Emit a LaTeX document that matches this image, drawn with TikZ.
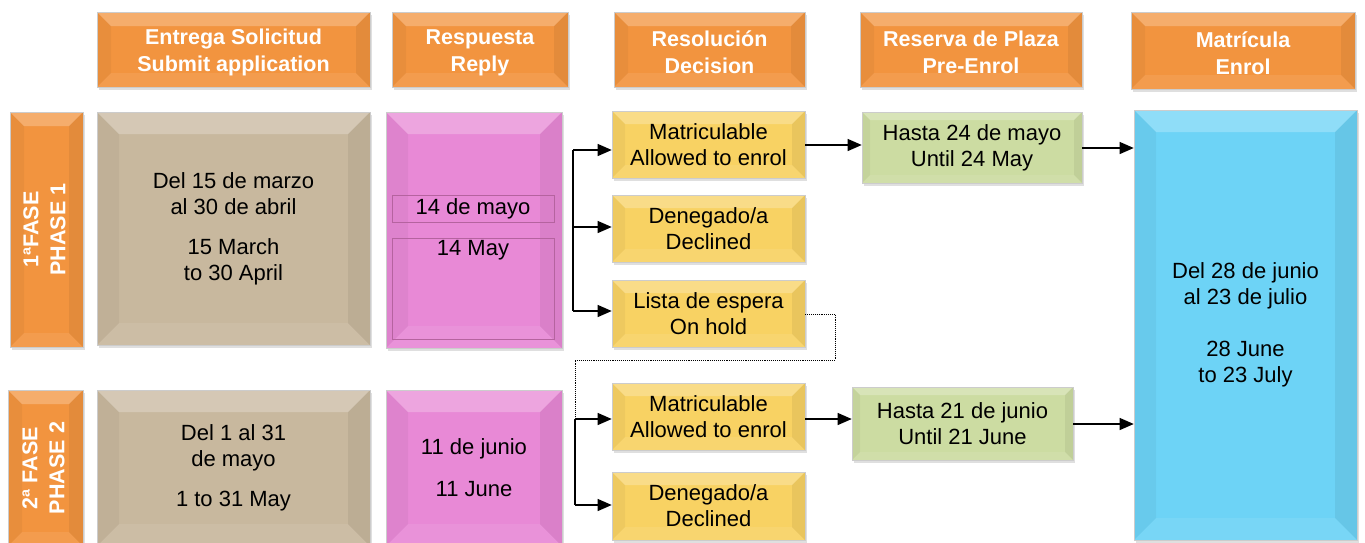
\documentclass[tikz,border=0pt]{standalone}
\usepackage{fontspec}
\setmainfont{Liberation Sans}
\usepackage{graphicx}
\usetikzlibrary{arrows.meta,shadows}
\definecolor{orng}{HTML}{F2943F}
\definecolor{tan}{HTML}{C8B89E}
\definecolor{pnk}{HTML}{E889D6}
\definecolor{pnkline}{HTML}{B5639F}
\definecolor{ylw}{HTML}{F8D263}
\definecolor{grn}{HTML}{CCDCA2}
\definecolor{blu}{HTML}{6DD3F6}
\newcommand{\hstrut}{\rule{0pt}{22pt}}
\tikzset{
  bev/.style={path picture={
    \fill[white,opacity=.24] (path picture bounding box.north west) -- (path picture bounding box.north east)
      -- ([xshift=-#1pt,yshift=-#1pt]path picture bounding box.north east) -- ([xshift=#1pt,yshift=-#1pt]path picture bounding box.north west) -- cycle;
    \fill[white,opacity=.08] (path picture bounding box.south west) -- (path picture bounding box.south east)
      -- ([xshift=-#1pt,yshift=#1pt]path picture bounding box.south east) -- ([xshift=#1pt,yshift=#1pt]path picture bounding box.south west) -- cycle;
    \fill[black,opacity=.04] (path picture bounding box.north west) -- (path picture bounding box.south west)
      -- ([xshift=#1pt,yshift=#1pt]path picture bounding box.south west) -- ([xshift=#1pt,yshift=-#1pt]path picture bounding box.north west) -- cycle;
    \fill[black,opacity=.06] (path picture bounding box.north east) -- (path picture bounding box.south east)
      -- ([xshift=-#1pt,yshift=#1pt]path picture bounding box.south east) -- ([xshift=-#1pt,yshift=-#1pt]path picture bounding box.north east) -- cycle;
  }},
  box/.style={rectangle, inner sep=0pt, align=center, draw=black!20, line width=0.6pt,
    drop shadow={shadow xshift=2pt, shadow yshift=-3pt, opacity=.25}},
  hdr/.style={box, fill=orng, bev=14, text=white, font=\fontsize{21.5}{27}\selectfont\bfseries},
  phs/.style={box, fill=orng, bev=14, text=white, font=\fontsize{21.5}{27}\selectfont\bfseries},
  tanbox/.style={box, fill=tan, bev=22},
  pnkbox/.style={box, fill=pnk, bev=22},
  inbox/.style={rectangle, draw=pnkline, line width=0.8pt, inner sep=0pt},
  ybox/.style={box, fill=ylw, bev=13},
  gbox/.style={box, fill=grn, bev=8},
  bbox/.style={box, fill=blu, bev=22},
  arr/.style={-{Triangle[length=14pt,width=12pt]}, line width=1.1pt},
  ln/.style={line width=1.1pt},
  dot/.style={densely dotted, line width=0.9pt}
}
\begin{document}
\begin{tikzpicture}[x=1pt,y=-1pt,font=\fontsize{22}{26}\selectfont]
\useasboundingbox (0,0) rectangle (1365,542);
\clip (0,0) rectangle (1365,542);
% headers
\node[hdr, minimum width=273, minimum height=75] (h1) at (233.5,49.5) {\hstrut Entrega Solicitud\\Submit application};
\node[hdr, minimum width=176, minimum height=75] (h2) at (480,49.5) {\hstrut Respuesta\\Reply};
\node[hdr, minimum width=191, minimum height=75] (h3) at (709.5,49.5) {\hstrut Resolución\\Decision};
\node[hdr, minimum width=222, minimum height=75] (h4) at (971,49.5) {\hstrut Reserva de Plaza\\Pre-Enrol};
\node[hdr, minimum width=224, minimum height=77] (h5) at (1243,50.5) {\hstrut Matrícula\\Enrol};
% phase labels
\node[phs, minimum width=73, minimum height=235] (p1) at (46.5,229.5) {\rotatebox{90}{\begin{tabular}{@{}c@{}}1ªFASE\\PHASE 1\end{tabular}}};
\node[phs, minimum width=75, minimum height=156] (p2) at (45.5,468) {\rotatebox{90}{\begin{tabular}{@{}c@{}}2ª FASE\\PHASE 2\end{tabular}}};
% submit boxes
\node[tanbox, minimum width=273, minimum height=233] (t1) at (233.5,228.5) {Del 15 de marzo\\al 30 de abril\\[14pt]15 March\\to 30 April};
\node[tanbox, minimum width=273, minimum height=156] (t2) at (233.5,468) {Del 1 al 31\\ de mayo\\[14pt]1 to 31 May};
% reply boxes
\node[pnkbox, minimum width=176, minimum height=236] (r1) at (474,230) {};
\node[inbox, minimum width=162, minimum height=27] (r1a) at (473,208.5) {14 de mayo};
\node[inbox, minimum width=162, minimum height=101, anchor=north] (r1b) at (473,237.5) {};
\node[anchor=north, inner sep=0pt] (r1bt) at ([yshift=-3pt]r1b.north) {14 May};
\node[pnkbox, minimum width=176, minimum height=156] (r2) at (474,468) {11 de junio\\[16pt]11 June};
% decision boxes
\node[ybox, minimum width=193, minimum height=67] (m1) at (708.5,144.5) {Matriculable\\Allowed to enrol};
\node[ybox, minimum width=193, minimum height=67] (d1) at (708.5,228.5) {Denegado/a\\Declined};
\node[ybox, minimum width=193, minimum height=67] (l1) at (708.5,313.5) {Lista de espera\\On hold};
\node[ybox, minimum width=193, minimum height=67] (m2) at (708.5,416.5) {Matriculable\\Allowed to enrol};
\node[ybox, minimum width=193, minimum height=68] (d2) at (708.5,506) {Denegado/a\\Declined};
% pre-enrol boxes
\node[gbox, minimum width=220, minimum height=71] (g1) at (972,147.5) {Hasta 24 de mayo\\Until 24 May};
\node[gbox, minimum width=221, minimum height=73] (g2) at (962.5,423.5) {Hasta 21 de junio\\Until 21 June};
% enrol box
\node[bbox, minimum width=223, minimum height=430] (e) at (1245.5,325) {Del 28 de junio\\al 23 de julio\\[26pt]28 June\\to 23 July};
% connectors phase 1
\coordinate (k1) at (573,150);
\coordinate (k2) at (573,227);
\coordinate (k3) at (573,311);
\draw[ln] (k1) -- (k3);
\draw[arr] (k1) -- (k1 -| m1.west);
\draw[arr] (k2) -- (k2 -| d1.west);
\draw[arr] (k3) -- (k3 -| l1.west);
\draw[arr] (m1.east |- 0,145) -- (g1.west |- 0,145);
\draw[arr] (g1.east |- 0,148) -- (e.west |- 0,148);
% waiting list
\coordinate (w1) at (835,314);
\coordinate (w2) at (835,360);
\coordinate (w3) at (575,360);
\coordinate (q1) at (575,419);
\coordinate (q2) at (575,505);
\draw[dot] (l1.east |- w1) -- (w1) -- (w2) -- (w3) -- (q1);
% connectors phase 2
\draw[ln] (q1) -- (q2);
\draw[arr] (q1) -- (q1 -| m2.west);
\draw[arr] (q2) -- (q2 -| d2.west);
\draw[arr] (m2.east |- 0,419) -- (g2.west |- 0,419);
\draw[arr] (g2.east |- 0,424) -- (e.west |- 0,424);
\end{tikzpicture}
\end{document}
